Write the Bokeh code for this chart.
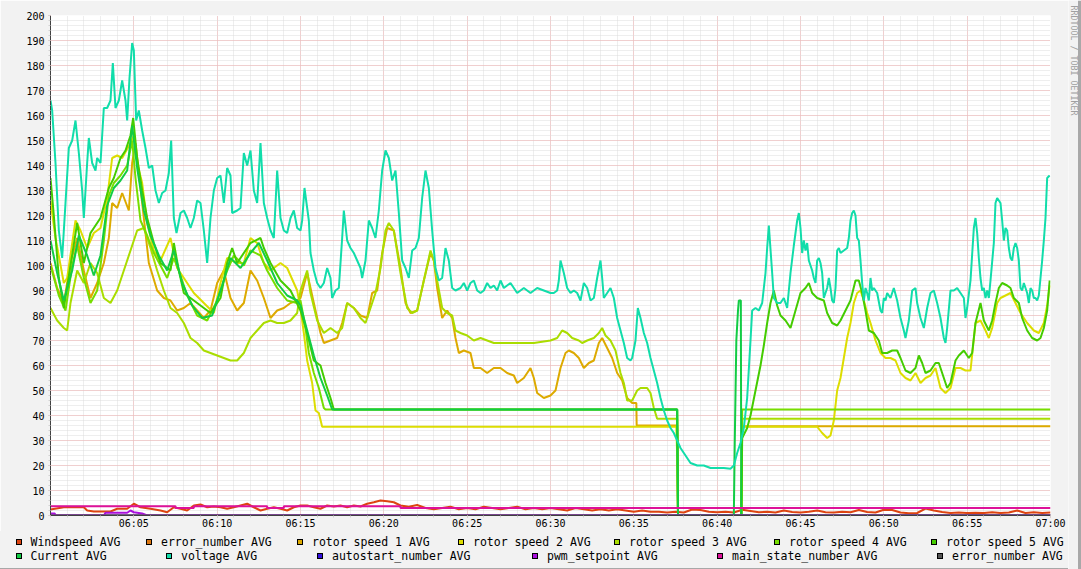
import math
from bokeh.plotting import figure
from bokeh.models import Range1d, FixedTicker, Div
from bokeh.layouts import column, row
from bokeh.core.properties import value
from bokeh.embed import file_html
from bokeh.resources import INLINE

# time axis: minutes after 06:00
x_tick_pos = [5, 10, 15, 20, 25, 30, 35, 40, 45, 50, 55, 60]
x_tick_labels = ["06:05", "06:10", "06:15", "06:20", "06:25", "06:30",
                 "06:35", "06:40", "06:45", "06:50", "06:55", "07:00"]

wind_t = [0, 0.8, 2.0, 2.2, 2.6, 3.6, 4.0, 4.6, 5.0, 5.4, 6.0, 6.6, 7.0, 7.4, 7.8, 8.2, 8.6, 9.0, 9.4, 9.8,
          10.2, 10.6, 11.0, 11.4, 11.8, 12.2, 12.6, 13.0, 13.4, 13.8, 14.2, 14.6, 15.0, 15.4, 15.8, 16.2,
          16.6, 17.0, 17.4, 17.8, 18.2, 18.6, 19.0, 19.4, 19.8, 20.2, 20.6, 21.0, 21.5, 22.0, 22.5, 23,
          23.5, 24, 24.5, 25, 25.5, 26, 26.5, 27, 27.5, 28, 28.5, 29, 29.5, 30, 30.5, 31, 31.5, 32, 32.5,
          33, 33.5, 34, 34.5, 35, 35.5, 36, 36.5, 37, 37.5, 38, 38.5, 39, 39.5, 40, 40.5, 41, 41.5, 42,
          42.5, 43, 43.5, 44, 44.5, 45, 45.5, 46, 46.5, 47, 47.5, 48, 48.5, 49, 49.5, 50, 50.5, 51, 51.5,
          52, 52.5, 53, 53.5, 54, 54.5, 55, 55.5, 56, 56.5, 57, 57.5, 58, 58.5, 59, 59.5, 60]
wind_v = [2.4, 3.3, 3.3, 2.0, 1.6, 1.6, 2.7, 2.7, 4.7, 3.3, 2.7, 2.0, 1.3, 3.3, 2.7, 2.0, 4.0, 4.4, 3.3, 3.6,
          3.3, 2.7, 3.3, 4.0, 4.7, 3.3, 2.0, 2.7, 3.3, 2.7, 2.0, 3.3, 4.0, 4.0, 3.3, 2.7,
          4.0, 3.6, 4.0, 3.3, 4.0, 3.6, 4.7, 5.3, 6.0, 5.7, 5.3, 4.0, 3.5, 4.2, 3.0, 2.5,
          3.0, 3.5, 2.5, 3.0, 2.5, 3.5, 3.0, 2.5, 3.0, 3.5, 2.5, 3.0, 2.5, 3.0, 2.5, 2.0, 3.0, 2.5, 2.0,
          2.5, 2.0, 2.5, 2.0, 1.5, 2.0, 1.5, 1.5, 1.2, 1.5, 1.2, 2.4, 2.2, 1.5, 1.3, 1.5, 1.2, 2.3, 1.8,
          1.3, 1.5, 1.2, 2.0, 1.4, 1.2, 1.5, 2.0, 1.3, 1.2, 1.5, 1.3, 2.2, 1.4, 1.2, 2.3, 2.2, 1.2, 0.9,
          1.0, 2.8, 2.0, 1.4, 1.0, 1.2, 1.0, 1.1, 1.0, 1.3, 1.0, 1.2, 2.0, 1.0, 1.3, 1.0, 1.2]

err_t = [0, 60]
err_v = [0, 0]

rotor1_t = [0, 0.4, 0.8, 1.2, 1.6, 2.0, 2.4, 2.8, 3.2, 3.5, 3.7, 4.0, 4.3, 4.7, 4.9, 5.1, 5.3, 5.6, 5.9, 6.4,
            6.8, 7.2, 7.6, 8.0, 8.4, 8.8, 9.2, 9.6, 10.0, 10.4, 10.8, 11.2, 11.6, 12.0, 12.4, 12.8, 13.2,
            13.6, 14.0, 14.4, 14.8, 15.0, 15.4, 15.8, 16.2, 16.4, 16.8, 17.2, 17.5, 17.8, 18.2, 18.6, 19.0,
            19.3, 19.6, 19.9, 20.2, 20.6, 21.0, 21.3, 21.6, 22.0, 22.4, 22.8, 23.0, 23.2, 23.5, 23.8, 24.1,
            24.3, 24.5, 24.8, 25.2, 25.4, 25.8, 26.2, 26.6, 27.0, 27.4, 27.8, 28.0, 28.4, 28.8, 29.0, 29.2,
            29.6, 30.0, 30.3, 30.6, 30.9, 31.1, 31.4, 31.7, 32.0, 32.3, 32.6, 32.9, 33.1, 33.4, 33.7, 34.0,
            34.3, 34.6, 34.9, 35.15, 35.17, 37.6, 37.65, 41.45, 41.5, 60]
rotor1_v = [101, 91, 85, 101, 111, 98, 87, 93, 101, 111, 125, 123, 129, 122, 141, 149, 137, 119, 101, 90,
            87, 86, 82, 83, 85, 82, 79, 82, 93, 98, 87, 82, 85, 98, 94, 87, 79,
            82, 83, 85, 86, 87, 97, 85, 73, 69, 70, 71, 77, 85, 83, 80, 79,
            89, 90, 105, 115, 114, 99, 85, 81, 82, 94, 105, 102, 91, 79, 82, 79,
            71, 65, 66, 65, 59, 59, 57, 59, 59, 57, 56, 53, 55, 59, 55, 49,
            47, 48, 50, 59, 65, 66, 65, 63, 59, 61, 62, 69, 71, 67, 63, 57,
            54, 47, 45, 45, 36, 36, 0, 0, 35.7, 35.7]

rotor2_t = [0, 0.3, 0.8, 1.0, 1.5, 1.8, 2.2, 2.6, 3.0, 3.4, 3.7, 4.0, 4.3, 4.8, 5.0, 5.2, 5.5, 5.8, 6.2, 6.6,
            7.2, 7.6, 8.0, 8.6, 9.2, 9.8, 10.2, 10.6, 11.2, 11.6, 12.0, 12.4, 12.8, 13.2, 13.8, 14.2, 14.8,
            15.0, 15.2, 15.4, 15.7, 15.9, 16.1, 16.3, 37.55, 37.6, 37.65, 41.45, 41.5, 46.0, 46.3, 46.6,
            46.8, 47.0, 47.2, 47.4, 47.6, 47.8, 48.0, 48.2, 48.4, 48.6, 48.8, 49.0, 49.2, 49.5, 49.8, 50.1,
            50.4, 50.7, 51.0, 51.3, 51.6, 51.9, 52.2, 52.5, 52.8, 53.1, 53.4, 53.7, 54.0, 54.3, 54.6, 54.9,
            55.2, 55.5, 55.8, 56.1, 56.3, 56.5, 56.8, 57.0, 57.3, 57.6, 57.9, 58.2, 58.6, 59.0, 59.3, 59.6,
            59.8, 59.95]
rotor2_v = [126, 111, 93, 95, 118, 114, 107, 113, 115, 127, 143, 144, 143, 149, 152, 141, 133, 117, 106, 102,
            111, 99, 95, 89, 85, 81, 93, 103, 101, 101, 111, 109, 101, 98, 101, 99, 90,
            83, 73, 62, 53, 42, 41, 35.5, 35.5, 24, 0, 0, 35.5, 35.5, 33, 31,
            32, 38, 50, 55, 63, 71, 77, 85, 89, 90, 86, 81, 77, 70, 65, 63,
            63, 62, 57, 55, 54, 57, 53, 55, 56, 59, 51, 49, 51, 59, 59, 58,
            58, 77, 78, 74, 71, 75, 85, 87, 88, 89, 85, 81, 77, 74, 73, 77,
            84, 92]

rotor3_t = [0, 0.4, 0.8, 1.0, 1.2, 1.6, 2.0, 2.4, 2.8, 3.2, 3.6, 4.0, 4.4, 4.8, 5.2, 5.6, 6.0, 6.4, 6.8, 7.2,
            7.6, 8.0, 8.4, 8.8, 9.2, 9.6, 10.0, 10.4, 10.8, 11.2, 11.6, 12.0, 12.4, 12.8, 13.2, 13.6, 14.0,
            14.4, 14.8, 15.0, 15.4, 15.6, 16.0, 16.4, 16.8, 17.2, 17.5, 17.8, 18.2, 18.6, 18.9, 19.2, 19.5,
            19.8, 20.1, 20.3, 20.6, 21.0, 21.4, 21.7, 22.0, 22.4, 22.8, 23.0, 23.2, 23.5, 23.8, 24.1, 24.3,
            24.6, 25.0, 25.4, 25.8, 26.2, 26.6, 27.0, 28.0, 29.0, 30.0, 30.4, 30.7, 31.0, 31.3, 31.7, 31.9,
            32.2, 32.6, 32.9, 33.1, 33.3, 33.6, 33.9, 34.2, 34.4, 34.6, 34.9, 35.2, 35.4, 35.8, 36.0, 36.2,
            36.4, 37.6, 37.65, 41.45, 41.5, 60]
rotor3_v = [83, 78, 75, 74, 85, 98, 93, 101, 97, 87, 85, 90, 98, 106, 114, 115, 107, 98, 90, 83,
            81, 77, 71, 69, 66, 65, 64, 63, 62, 62, 65, 71, 74, 77, 78, 77, 77,
            78, 81, 90, 98, 89, 78, 73, 75, 73, 75, 85, 83, 79, 77, 83, 89,
            99, 114, 117, 114, 97, 83, 81, 82, 94, 106, 102, 94, 83, 81, 80, 74,
            73, 72, 70, 71, 70, 69, 69, 69, 69, 70, 71, 74, 73, 71, 70, 69,
            70, 71, 73, 75, 72, 70, 66, 57, 53, 46, 46, 50, 51, 51, 49, 43,
            38.7, 38.7, 0, 0, 38.7, 38.7]

rotor4_t = [0, 0.5, 0.9, 1.3, 1.6, 2.0, 2.4, 2.8, 3.2, 3.5, 3.8, 4.2, 4.6, 4.9, 5.1, 5.4, 5.8, 6.2, 6.6, 7.0,
            7.4, 7.8, 8.2, 8.8, 9.4, 10.0, 10.6, 11.0, 11.6, 12.0, 12.6, 13.0, 13.6, 14.2, 14.8, 15.0, 15.3,
            15.5, 15.8, 16.1, 16.4, 16.5, 37.6, 37.65, 41.45, 41.5, 60]
rotor4_v = [100, 88, 82, 100, 108, 95, 85, 90, 110, 128, 133, 136, 140, 150, 135, 118, 112, 105, 100, 95,
            103, 96, 88, 80, 78, 86, 98, 104, 100, 106, 104, 98, 91, 86, 85, 86, 75,
            65, 57, 51, 43, 42.4, 42.4, 0, 0, 42.4, 42.4]

rotor5_t = [0, 0.2, 0.5, 0.8, 1.2, 1.6, 2.0, 2.4, 3.0, 3.5, 3.8, 4.2, 4.5, 4.8, 4.96, 5.2, 5.5, 5.8, 6.2, 6.6,
            7.2, 7.4, 7.7, 8.0, 8.8, 9.6, 10.2, 10.6, 10.9, 11.2, 12.0, 12.6, 12.8, 13.2, 13.8, 14.4, 15.0,
            15.4, 15.8, 16.2, 16.5, 16.8, 17.0, 37.6, 37.65, 41.45, 41.5, 41.8, 42.0, 42.3, 42.6, 42.8, 43.0,
            43.2, 43.4, 43.6, 43.8, 44.1, 44.4, 44.7, 45.0, 45.3, 45.5, 45.7, 46.0, 46.4, 46.6, 46.9, 47.2,
            47.4, 47.7, 48.0, 48.3, 48.5, 48.7, 48.9, 49.1, 49.4, 49.7, 49.9, 50.2, 50.5, 50.8, 51.0, 51.3,
            51.6, 51.9, 52.1, 52.3, 52.5, 52.8, 53.1, 53.3, 53.5, 53.8, 54.0, 54.3, 54.5, 54.8, 55.1, 55.3,
            55.5, 55.8, 56.0, 56.3, 56.5, 56.7, 56.9, 57.1, 57.4, 57.6, 57.8, 58.1, 58.3, 58.6, 58.9, 59.2,
            59.4, 59.6, 59.8, 59.95]
rotor5_v = [135, 120, 95, 83, 100, 117, 101, 113, 119, 131, 135, 143, 146, 152, 159, 143, 130, 119, 109, 101,
            98, 109, 98, 89, 85, 81, 87, 101, 107, 101, 109, 111, 107, 101, 94, 90, 82,
            73, 62, 60, 53, 47, 42.4, 42.4, 0, 0, 31, 35, 40, 50, 60, 68, 77,
            85, 90, 84, 80, 78, 75, 82, 89, 91, 93, 89, 87, 86, 81, 77, 76,
            78, 82, 86, 94, 94, 89, 82, 74, 73, 70, 65, 65, 66, 66, 63, 58,
            57, 59, 64, 61, 57, 58, 61, 61, 57, 51, 53, 62, 64, 66, 63, 65,
            77, 85, 78, 74, 78, 85, 91, 93, 92, 91, 87, 85, 79, 74, 71, 70,
            71, 75, 82, 94]

current_t = [0, 0.4, 0.8, 1.3, 1.7, 2.2, 2.6, 3.0, 3.4, 3.8, 4.2, 4.6, 4.9, 5.2, 5.6, 6.0, 6.5, 7.0, 7.4, 7.9,
             8.5, 9.1, 9.7, 10.3, 10.8, 11.4, 12.0, 12.5, 13.0, 13.6, 14.2, 14.8, 15.0, 15.4, 15.8, 16.2,
             16.6, 16.9, 37.6, 37.65, 41.0, 41.05, 41.15, 41.25, 41.3, 41.42, 41.45, 60]
current_v = [110, 97, 86, 98, 112, 104, 96, 104, 124, 131, 134, 138, 156, 139, 122, 112, 104, 98, 106, 93,
             84, 79, 80, 92, 103, 99, 105, 109, 102, 93, 88, 86, 84, 74, 64, 55,
             48, 42.4, 42.4, 0, 0, 27, 70, 82, 86, 86, 0, 0]

volt_t = [0.0, 0.1, 0.3, 0.5, 0.7, 0.9, 1.1, 1.3, 1.5, 1.7, 1.9, 2.0, 2.2, 2.3, 2.5, 2.7, 2.8, 3.0, 3.2, 3.4,
          3.6, 3.74, 3.9, 4.1, 4.3, 4.5, 4.6, 4.74, 4.9, 5.0, 5.14, 5.3, 5.5, 5.7, 5.9, 6.1, 6.3, 6.5, 6.7,
          6.9, 7.1, 7.24, 7.4, 7.56, 7.8, 8.0, 8.2, 8.4, 8.6, 8.8, 9.0, 9.2, 9.4, 9.6, 9.8, 10.0, 10.2, 10.4,
          10.6, 10.8, 10.9, 11.2, 11.4, 11.6, 11.8, 12.0, 12.2, 12.4, 12.6, 12.8, 13.0, 13.2, 13.4, 13.6,
          13.8, 14.0, 14.2, 14.4, 14.6, 14.8, 15.0, 15.1, 15.24, 15.4, 15.5, 15.6, 15.8, 16.0, 16.2, 16.4,
          16.6, 16.8, 16.9, 17.1, 17.3, 17.5, 17.6, 17.8, 18.0, 18.2, 18.4, 18.6, 18.7, 18.9, 19.1, 19.3,
          19.5, 19.7, 19.9, 20.1, 20.3, 20.5, 20.7, 20.9, 21.1, 21.3, 21.5, 21.7, 21.9, 22.1, 22.3, 22.5,
          22.7, 22.9, 23.1, 23.3, 23.5, 23.7, 23.9, 24.1, 24.3, 24.6, 24.8, 25.0, 25.2, 25.4, 25.6, 25.8,
          26.0, 26.2, 26.4, 26.6, 26.8, 27.0, 27.2, 27.6, 28.0, 28.4, 28.8, 29.2, 29.6, 30.0, 30.2, 30.4,
          30.5, 30.6, 30.8, 31.0, 31.2, 31.4, 31.6, 31.8, 32.0, 32.2, 32.4, 32.6, 32.8, 33.0, 33.1, 33.2,
          33.4, 33.6, 33.8, 34.0, 34.2, 34.4, 34.6, 34.8, 34.9, 35.1, 35.24, 35.4, 35.6, 35.8, 36.0, 36.2,
          36.4, 36.6, 36.8, 37.0, 37.2, 37.4, 37.6, 37.8, 38.0, 38.2, 38.4, 38.8, 39.2, 39.6, 40.0, 40.4,
          40.8, 41.0, 41.2, 41.4, 41.6, 41.8, 42.0, 42.1, 42.3, 42.5, 42.7, 42.9, 43.0, 43.1, 43.3, 43.4,
          43.6, 43.8, 44.0, 44.2, 44.4, 44.6, 44.8, 44.9, 45.0, 45.1, 45.2, 45.3, 45.4, 45.5, 45.7, 45.8,
          45.9, 46.0, 46.1, 46.2, 46.3, 46.4, 46.5, 46.6, 46.7, 46.8, 46.9, 47.0, 47.1, 47.2, 47.3, 47.4,
          47.6, 47.8, 47.9, 48.0, 48.1, 48.2, 48.3, 48.4, 48.5, 48.6, 48.7, 48.8, 48.9, 49.0, 49.1, 49.2,
          49.3, 49.4, 49.6, 49.8, 49.9, 50.0, 50.1, 50.2, 50.4, 50.6, 50.8, 51.0, 51.2, 51.3, 51.5, 51.7,
          51.9, 52.0, 52.2, 52.4, 52.6, 52.8, 53.0, 53.2, 53.4, 53.6, 53.7, 53.8, 54.0, 54.2, 54.4, 54.6,
          54.8, 54.9, 55.0, 55.2, 55.4, 55.5, 55.6, 55.7, 55.8, 55.9, 56.0, 56.1, 56.2, 56.3, 56.4, 56.6,
          56.7, 56.8, 57.0, 57.1, 57.2, 57.3, 57.4, 57.5, 57.6, 57.7, 57.8, 57.9, 58.0, 58.1, 58.2, 58.3,
          58.4, 58.6, 58.7, 58.8, 58.9, 59.0, 59.1, 59.2, 59.3, 59.4, 59.5, 59.6, 59.7, 59.8, 59.95]
volt_v = [166, 162, 141, 114, 103, 125, 147, 150, 158, 145, 130, 119, 141, 151, 141, 138, 143, 141, 163, 163,
          166, 181, 163, 166, 174, 166, 158, 175, 189, 186, 158, 162, 154, 147, 139, 140, 130, 125, 129,
          130, 137, 150, 119, 113, 121, 122, 119, 115, 119, 126, 125, 114, 101, 119, 130, 135, 136, 125,
          139, 136, 121, 122, 123, 145, 140, 146, 130, 125, 149, 125, 119, 114, 111, 138,
          119, 114, 113, 119, 122, 115, 114, 118, 131, 123, 118, 105, 98, 93, 91, 93,
          99, 95, 87, 90, 91, 111, 122, 110, 107, 105, 102, 99, 95, 102, 118, 115,
          111, 122, 138, 146, 143, 134, 138, 121, 102, 99, 95, 106, 107, 111, 127, 138,
          131, 114, 99, 94, 95, 107, 102, 91, 90, 91, 93, 90, 93, 94, 90, 89,
          90, 93, 91, 92, 90, 94, 91, 93, 89, 91, 89, 91, 90, 89, 89, 90,
          94, 102, 97, 91, 89, 90, 89, 86, 93, 91, 86, 87, 95, 102, 95, 87,
          89, 91, 87, 79, 74, 69, 63, 62, 63, 70, 83, 79, 73, 69, 63, 58,
          53, 47, 42, 38, 35, 33, 30, 27, 25, 23, 21, 20, 20, 19, 19, 19,
          18.7, 20, 25, 29, 35, 47, 70, 82, 83, 82, 85, 97, 107, 116, 97, 87,
          85, 85, 87, 83, 97, 108, 118, 121, 115, 105, 110, 106, 109, 102, 98, 95,
          93, 102, 103, 101, 97, 87, 89, 91, 95, 91, 86, 85, 91, 106, 107, 105,
          106, 107, 111, 118, 121, 122, 120, 111, 110, 102, 93, 86, 91, 89, 86, 95,
          90, 91, 89, 82, 81, 87, 86, 89, 87, 91, 86, 79, 74, 71, 78, 90,
          91, 85, 79, 75, 83, 89, 90, 85, 79, 71, 69, 75, 90, 90, 91, 89,
          87, 79, 83, 94, 115, 119, 113, 103, 95, 90, 91, 87, 90, 87, 94, 109,
          125, 127, 125, 118, 110, 115, 114, 107, 103, 102, 107, 109, 107, 102, 91, 90,
          93, 89, 85, 91, 90, 87, 87, 86, 88, 95, 102, 110, 119, 135, 136]

auto_t = [0, 60]
auto_v = [0, 0]

pwm_t = [0, 0.25, 0.3, 3.2, 3.3, 4.6, 4.8, 5.0, 5.5, 5.8, 60]
pwm_v = [0.8, 0.8, 0, 0, 1.1, 1.1, 2.0, 1.3, 0.8, 0, 0]

state_t = [0, 7.5, 8.6, 13.0, 14.0, 21.0, 60]
state_v = [3.7, 3.0, 3.7, 3.0, 3.7, 3.0, 3.0]

err2_t = [0, 60]
err2_v = [0, 0]

legend_names = ["Windspeed AVG", "error_number AVG", "rotor speed 1 AVG", "rotor speed 2 AVG",
                "rotor speed 3 AVG", "rotor speed 4 AVG", "rotor speed 5 AVG",
                "Current AVG", "voltage AVG", "autostart_number AVG", "pwm_setpoint AVG",
                "main_state_number AVG", "error_number AVG"]
colors = ["#DD4411", "#DD7711", "#DDAA00", "#DDDD00", "#AADD00", "#77DD00", "#44CC00",
          "#11CC44", "#11DDAA", "#3311DD", "#AA11DD", "#DD1199", "#555555"]

series = [(wind_t, wind_v), (err_t, err_v), (rotor1_t, rotor1_v), (rotor2_t, rotor2_v),
          (rotor3_t, rotor3_v), (rotor4_t, rotor4_v), (rotor5_t, rotor5_v), (current_t, current_v),
          (volt_t, volt_v), (auto_t, auto_v), (pwm_t, pwm_v), None, (err2_t, err2_v)]

BG = "#F2F2F2"
EDGE = "#A8A8A8"

# ---------------- main chart ----------------
p = figure(frame_width=1000, frame_height=500, x_range=Range1d(0, 60), y_range=Range1d(0, 200),
           output_backend="svg", toolbar_location=None,
           min_border_left=50, min_border_right=18, min_border_top=15, min_border_bottom=15,
           background_fill_color="white", border_fill_color=BG, outline_line_color=None)

xt = FixedTicker(ticks=x_tick_pos, minor_ticks=list(range(0, 61)))
yt = FixedTicker(ticks=list(range(0, 201, 10)), minor_ticks=list(range(0, 201, 2)))
p.xaxis.ticker = xt
p.xgrid.ticker = xt
p.yaxis.ticker = yt
p.ygrid.ticker = yt
p.xaxis.major_label_overrides = dict(zip(x_tick_pos, x_tick_labels))

for g in (p.xgrid, p.ygrid):
    g.grid_line_color = "#F2B0B0"
    g.grid_line_dash = "1 1"
    g.minor_grid_line_color = "#DCDCDC"
    g.minor_grid_line_dash = "1 1"

for ax in (p.xaxis, p.yaxis):
    ax.axis_line_color = "#404040"
    ax.axis_line_width = 1
    ax.major_tick_in = 0
    ax.major_tick_out = 2
    ax.major_tick_line_color = "#F0A0A0"
    ax.minor_tick_in = 0
    ax.minor_tick_out = 2
    ax.minor_tick_line_color = "#D0D0D0"
    ax.major_label_text_font = "DejaVu Sans Mono"
    ax.major_label_text_font_size = "10px"
    ax.major_label_text_color = "black"
p.xaxis.major_label_standoff = 0
p.yaxis.major_label_standoff = 4

for i, s in enumerate(series):
    if s is None:
        p.step(state_t, state_v, mode="after", line_color=colors[i], line_width=2)
    else:
        p.line(s[0], s[1], line_color=colors[i], line_width=2)

# ---------------- legend strip (rrdtool style, HTML) ----------------
leg_row_y = [11.5] * 7 + [25.5] * 6          # row centres inside the 39px strip
leg_box_x = [15.5, 146, 297, 458, 614, 774, 931, 15.5, 166, 317, 532, 717, 937]

parts = []
for name, c, bx, cy in zip(legend_names, colors, leg_box_x, leg_row_y):
    parts.append(
        f'<span style="position:absolute;left:{bx}px;top:{cy - 4}px;width:6px;height:6px;'
        f'background:{c};border:1px solid #000;"></span>')
    parts.append(
        f'<span style="position:absolute;left:{bx + 15}px;top:{cy}px;transform:translateY(-50%);'
        f'white-space:nowrap;line-height:1;">{name}</span>')
parts.append(f'<span style="position:absolute;left:0;top:37px;width:1068px;height:2px;background:{EDGE};"></span>')
legend_html = ('<div style="position:relative;width:1068px;height:39px;background:' + BG + ';'
               'font-family:\'DejaVu Sans Mono\',monospace;font-size:11.5px;color:#000;overflow:hidden;">'
               + "".join(parts) + '</div>')
lg = Div(text=legend_html, width=1068, height=39, margin=0)

# ---------------- right strip with vertical credit ----------------
sd = figure(width=13, height=569, x_range=Range1d(0, 13), y_range=Range1d(569, 0),
            output_backend="svg", toolbar_location=None, x_axis_type=None, y_axis_type=None,
            min_border=0, background_fill_color=BG, border_fill_color=BG, outline_line_color=None)
sd.grid.visible = False
sd.quad(left=[9.5], right=[13], top=[0], bottom=[569], fill_color=EDGE, line_color=None)
sd.text(x=[5], y=[5], text=["RRDTOOL / TOBI OETIKER"], angle=-math.pi / 2,
        text_font=value("DejaVu Sans Mono"), text_font_size=value("8.3px"),
        text_color="#A0A0A0", text_baseline="middle", text_align="left")

layout = row(column(p, lg), sd)
open("out.html", "w").write(file_html(layout, INLINE))
